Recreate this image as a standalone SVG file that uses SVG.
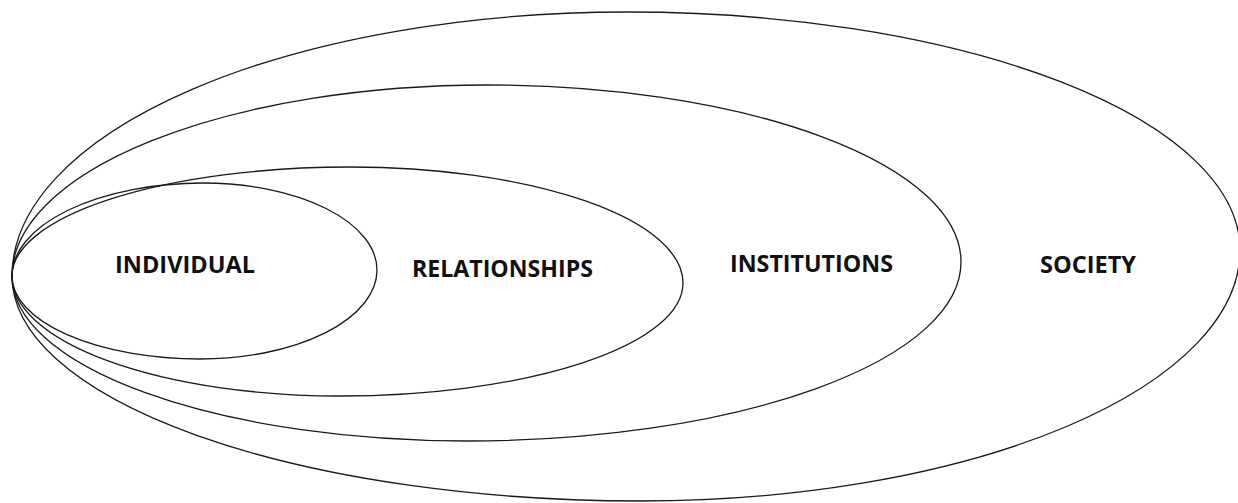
<svg xmlns="http://www.w3.org/2000/svg" width="1238" height="503" viewBox="0 0 1238 503">
<style>
.ring{fill:none;stroke:#1a1a1a;stroke-width:1.3}
.lbl{font-family:"Open Sans",Lato,sans-serif;font-weight:bold;font-size:23px;fill:#111}
</style>
<rect width="1238" height="503" fill="#fff"/>
<g id="society">
<path class="ring" d="M12,276 A615,264 0 0 1 627,12 A613,238 0 0 1 1240,250 A600,251 0 0 1 640,501 A628,225 0 0 1 12,276 Z"/>
<text class="lbl" x="1040" y="273" textLength="96" lengthAdjust="spacingAndGlyphs">SOCIETY</text>
</g>
<g id="institutions">
<path class="ring" d="M12,276 A475,191 0 0 1 487,85 A474,177 0 0 1 961,262 A494,179 0 0 1 467,441 A455,165 0 0 1 12,276 Z"/>
<text class="lbl" x="730" y="272" textLength="163" lengthAdjust="spacingAndGlyphs">INSTITUTIONS</text>
</g>
<g id="relationships">
<path class="ring" d="M12,276 A338,109 0 0 1 350,167 A333,116 0 0 1 683,283 A343,113 0 0 1 340,396 A328,120 0 0 1 12,276 Z"/>
<text class="lbl" x="412" y="277" textLength="181" lengthAdjust="spacingAndGlyphs">RELATIONSHIPS</text>
</g>
<g id="individual">
<path class="ring" d="M12,276 A191,93 0 0 1 203,183 A174,87 0 0 1 377,270 A177,89 0 0 1 200,359 A188,83 0 0 1 12,276 Z"/>
<text class="lbl" x="115" y="273" textLength="140" lengthAdjust="spacingAndGlyphs">INDIVIDUAL</text>
</g>
<g id="connectors"></g>
</svg>
